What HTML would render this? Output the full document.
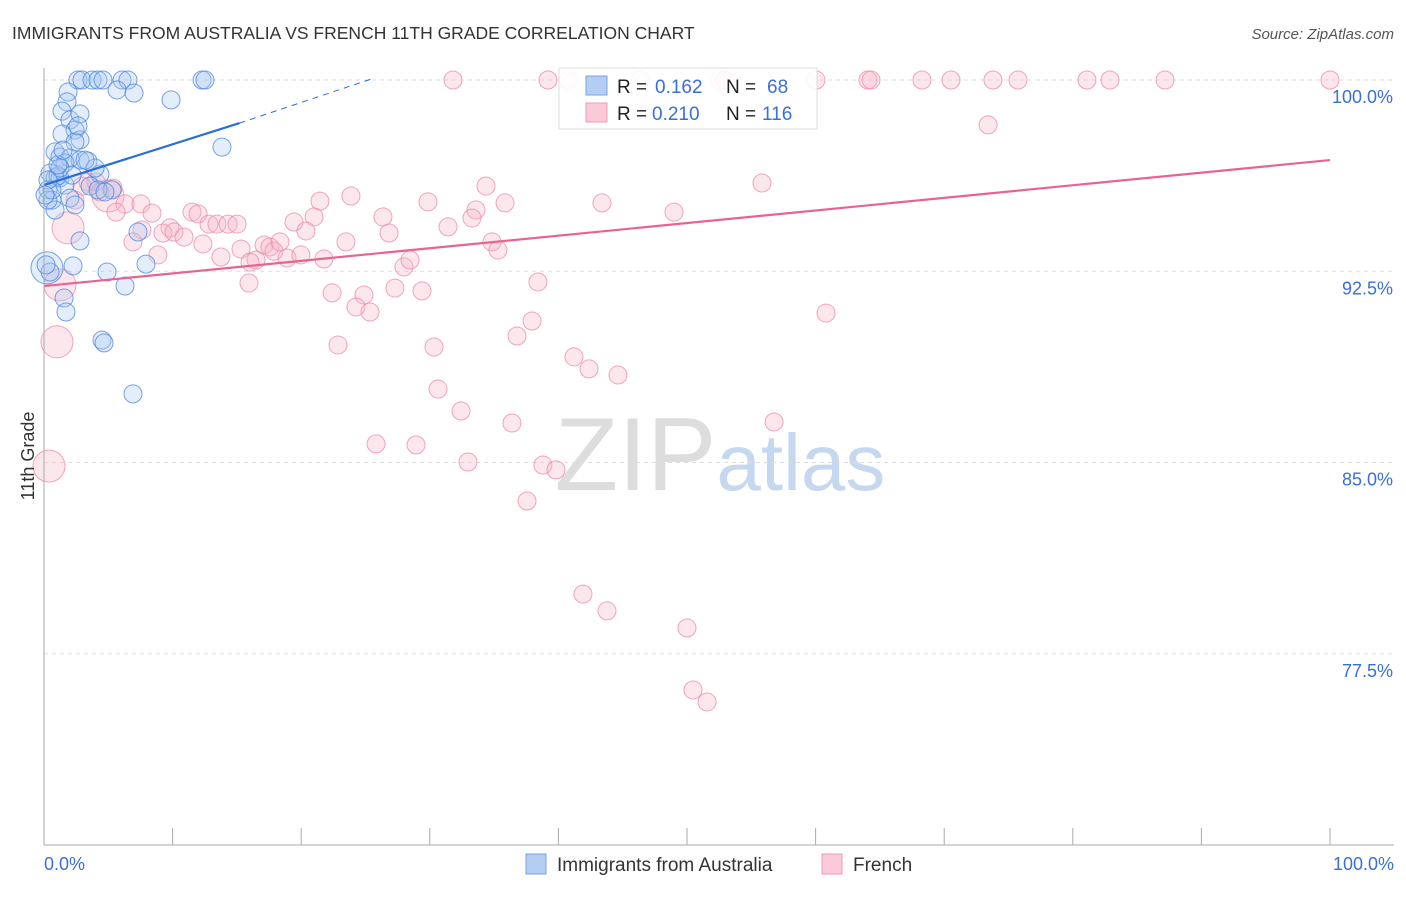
<!DOCTYPE html>
<html><head><meta charset="utf-8"><style>
body{margin:0;background:#fff;font-family:"Liberation Sans",sans-serif;}
svg text{font-family:"Liberation Sans",sans-serif;}
</style></head><body>
<svg id="chart" width="1406" height="892" xmlns="http://www.w3.org/2000/svg">
<text x="12" y="39" font-size="17.5" fill="#333">IMMIGRANTS FROM AUSTRALIA VS FRENCH 11TH GRADE CORRELATION CHART</text>
<text x="1394" y="39" font-size="15" fill="#555" text-anchor="end" font-style="italic">Source: ZipAtlas.com</text>
<text x="720" y="490" font-size="104" fill="#ddd" text-anchor="middle" font-family="Liberation Serif">ZIP<tspan fill="#c5d8f0" font-family="Liberation Sans" font-size="80">atlas</tspan></text>
<g id="grid"></g>
<g id="points"></g>
<g id="lines"></g>
<line x1="44" y1="68" x2="44" y2="845" stroke="#aaa"/>
<line x1="44" y1="845" x2="1394" y2="845" stroke="#aaa"/>
<text transform="translate(34,456) rotate(-90)" font-size="18" fill="#333" text-anchor="middle">11th Grade</text>
<text x="44" y="870" font-size="18" fill="#3a6fd8">0.0%</text>
<text x="1394" y="870" font-size="18" fill="#3a6fd8" text-anchor="end">100.0%</text>
<g>
<rect x="559" y="68" width="258" height="61" fill="#fff" fill-opacity="0.9" stroke="#ddd"/>
<rect x="586" y="76" width="21" height="19" fill="#b3cdf3" stroke="#7aa3e6"/>
<rect x="586" y="103" width="21" height="19" fill="#fbcad8" stroke="#f29ab5"/>
<text x="617" y="93" font-size="19" fill="#222">R =</text>
<text x="655" y="93" font-size="19" fill="#3a6fd8">0.162</text>
<text x="726" y="93" font-size="19" fill="#222">N =</text>
<text x="767" y="93" font-size="19" fill="#3a6fd8">68</text>
<text x="617" y="120" font-size="19" fill="#222">R =</text>
<text x="652" y="120" font-size="19" fill="#3a6fd8">0.210</text>
<text x="726" y="120" font-size="19" fill="#222">N =</text>
<text x="762" y="120" font-size="19" fill="#3a6fd8">116</text>
</g>
<g>
<rect x="526" y="854" width="20" height="20" fill="#b3cdf3" stroke="#7aa3e6"/>
<text x="557" y="871" font-size="19" fill="#333">Immigrants from Australia</text>
<rect x="822" y="854" width="20" height="20" fill="#fbcad8" stroke="#f29ab5"/>
<text x="853" y="871" font-size="19" fill="#333">French</text>
</g>
</svg>
<script>
const yTicks=[100,92.5,85,77.5];
const yTickLabels=["100.0%","92.5%","85.0%","77.5%"];
const xTicks=[0,10,20,30,40,50,60,70,80,90,100];
const bluePx=[[78,80],[82,80],[92,80],[98,80],[103,80],[122,80],[128,80],[202,80],[205,80],[117,90],[134,93],[171,100],[68,92],[67,102],[62,111],[70,120],[80,114],[75,130],[62,134],[80,140],[75,142],[222,147],[55,152],[60,157],[70,158],[80,160],[88,161],[65,163],[100,174],[50,173],[55,178],[60,178],[65,185],[112,190],[48,190],[52,200],[70,198],[55,210],[75,205],[80,241],[138,232],[47,268],[50,272],[73,266],[107,272],[146,264],[125,286],[64,298],[66,312],[102,340],[104,343],[133,394],[48,200],[58,176],[90,186],[95,168],[46,265],[52,190],[60,168],[85,160],[72,175],[48,180],[58,165],[63,150],[78,126],[45,195],[98,190],[105,192]];
const pinkPx=[[453,80],[548,80],[568,80],[640,80],[720,80],[725,80],[816,80],[868,80],[871,80],[922,80],[951,80],[993,80],[1018,80],[1087,80],[1110,80],[1165,80],[1330,80],[988,125],[762,183],[486,186],[351,196],[320,201],[428,202],[505,203],[602,203],[476,210],[674,212],[472,218],[383,217],[314,217],[294,222],[448,227],[389,233],[306,231],[346,242],[492,242],[498,250],[404,267],[410,260],[538,282],[332,293],[364,295],[395,288],[422,291],[356,307],[370,312],[826,313],[532,321],[517,336],[338,345],[434,347],[574,357],[589,369],[618,375],[438,389],[461,411],[512,423],[774,422],[376,444],[416,445],[468,462],[543,465],[556,470],[527,501],[583,594],[607,611],[687,628],[693,690],[707,702],[88,182],[96,182],[75,200],[68,228],[60,285],[57,342],[49,466],[108,196],[125,204],[141,204],[116,212],[152,213],[170,228],[163,233],[142,230],[174,232],[184,237],[133,242],[203,244],[158,255],[192,212],[198,214],[209,224],[217,224],[228,224],[237,224],[221,257],[241,249],[249,283],[256,260],[264,245],[270,247],[274,251],[280,242],[287,258],[301,255],[324,259],[250,262],[82,186],[100,192],[113,188]];
const blueData=bluePx.map(p=>[+((p[0]-44)/12.86).toFixed(2),+(100-(p[1]-80)/25.5).toFixed(2)]);
const pinkData=pinkPx.map(p=>[+((p[0]-44)/12.86).toFixed(2),+(100-(p[1]-80)/25.5).toFixed(2)]);
const bigBlue=[41];
const bigPink=[72,73,74,75,76];
const blueTrend=[[0,95.88],[15.2,98.31]];
const blueTrendExt=[[15.2,98.31],[25.7,100.08]];
const pinkTrend=[[0,91.92],[100,96.86]];

const X=v=>44+v*12.86, Y=v=>80+(100-v)*25.5;
const NS="http://www.w3.org/2000/svg";
const grid=document.getElementById('grid'),pts=document.getElementById('points'),lines=document.getElementById('lines');
yTicks.forEach((t,i)=>{
 const l=document.createElementNS(NS,'line');
 
 
 l.setAttribute('x1',44);l.setAttribute('x2',1394);l.setAttribute('y1',Y(t));l.setAttribute('y2',Y(t));
 l.setAttribute('stroke','#ddd');l.setAttribute('stroke-dasharray','4,4');grid.appendChild(l);
 const tx=document.createElementNS(NS,'text');
 
 
 tx.setAttribute('x',1393);tx.setAttribute('y',Y(t)+23);tx.setAttribute('text-anchor','end');
 tx.setAttribute('font-size','18');tx.setAttribute('fill','#3a6fd8');tx.textContent=yTickLabels[i];grid.appendChild(tx);
});
xTicks.forEach(t=>{
 const l=document.createElementNS(NS,'line');
 
 
 l.setAttribute('x1',X(t));l.setAttribute('x2',X(t));l.setAttribute('y1',828);l.setAttribute('y2',845);
 l.setAttribute('stroke','#aaa');grid.appendChild(l);
});
function dot(d,i,big,fill,stroke,name){
 const c=document.createElementNS(NS,'circle');
 
 
 c.setAttribute('cx',X(d[0]));c.setAttribute('cy',Y(d[1]));
 c.setAttribute('r',big.includes(i)?16:9);
 c.setAttribute('fill',fill);c.setAttribute('fill-opacity','0.32');c.setAttribute('stroke',stroke);c.setAttribute('stroke-opacity','0.75');c.setAttribute('stroke-width','1');
 pts.appendChild(c);
}
pinkData.forEach((d,i)=>dot(d,i,bigPink,'#f7b3c8','#ec88a8','french-point'));
blueData.forEach((d,i)=>dot(d,i,bigBlue,'#a9c7f2','#4a84dc','australia-point'));
function line(a,color,w,dash,name){
 const l=document.createElementNS(NS,'line');
 
 
 l.setAttribute('x1',X(a[0][0]));l.setAttribute('y1',Y(a[0][1]));l.setAttribute('x2',X(a[1][0]));l.setAttribute('y2',Y(a[1][1]));
 l.setAttribute('stroke',color);l.setAttribute('stroke-width',w);if(dash)l.setAttribute('stroke-dasharray',dash);
 lines.appendChild(l);
}
line(pinkTrend,'#e8648f',2.2,null,'french-trendline');
line(blueTrend,'#2a6fd6',2.2,null,'australia-trendline');
line(blueTrendExt,'#2a6fd6',1,'6,5','australia-trendline-extension');
</script>
</body></html>
